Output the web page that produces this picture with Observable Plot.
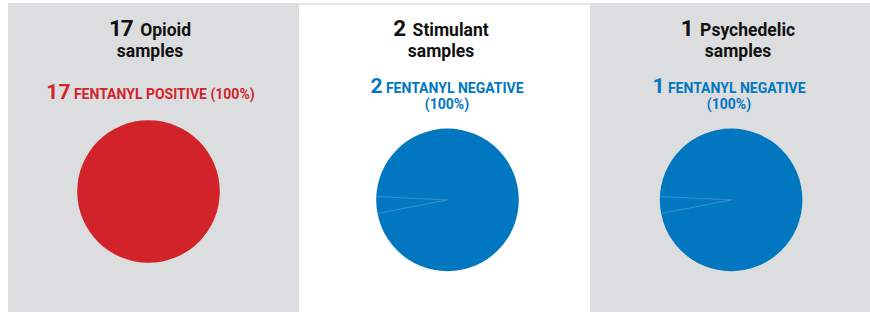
<!DOCTYPE html>
<html>
<head>
<meta charset="utf-8">
<script src="https://cdn.jsdelivr.net/npm/d3@7"></script>
<script src="https://cdn.jsdelivr.net/npm/@observablehq/plot@0.6"></script>
<style>
  html, body { margin: 0; padding: 0; background: #fff; }
  #chart { position: relative; width: 870px; height: 312px; overflow: hidden; font-family: Roboto, "Noto Sans", sans-serif; }
  .panel { position: absolute; top: 3px; height: 309px; }
  .panel svg { position: absolute; left: 0; top: 0; }
  .title { position: absolute; width: 300px; text-align: center; font-weight: 700; font-size: 17.5px; line-height: 21px; color: #111; }
  .title .num { font-size: 22.5px; line-height: 0; letter-spacing: -1px; margin-right: 3px; }
  .sub { position: absolute; width: 300px; text-align: center; font-weight: 700; font-size: 14px; line-height: 16px; }
  .sub .num { font-size: 21px; line-height: 0; }
</style>
</head>
<body>
<div id="chart"></div>
<script>
// ---- data ----
const categories = ["Opioid", "Stimulant", "Psychedelic"];
const sampleCounts = [17, 2, 1];
const fentanylPositive = [17, 0, 0];
const fentanylNegative = [0, 2, 1];
// faint seams visible between same-coloured slices in the negative pies (degrees, counter-clockwise from east)
const sliceSeamAngles = [[], [177.3, 191], [177.3, 191]];

// ---- layout / style ----
const panelLeft = [8, 299, 590];
const panelWidth = [291, 291, 280];
const panelBg = ["#dcdddf", "#ffffff", "#dcdddf"];
const pieCenter = [[140, 188], [148, 196.4], [140.6, 196.4]];
const titleCenter = [142, 142, 148];
const subCenter = [142.5, 148, 139];
const R = 71.3;
const H = 309;
const colors = { positive: "#d2232a", negative: "#0077c0" };

const chart = document.getElementById("chart");

categories.forEach((cat, i) => {
  const panel = document.createElement("div");
  panel.className = "panel";
  panel.style.left = panelLeft[i] + "px";
  panel.style.width = panelWidth[i] + "px";
  panel.style.background = panelBg[i];
  if (panelBg[i] === "#ffffff") panel.style.boxShadow = "inset 0 2px 0 #e4e5e6";
  chart.appendChild(panel);

  const slices = [
    { outcome: "positive", label: "FENTANYL POSITIVE", value: fentanylPositive[i] },
    { outcome: "negative", label: "FENTANYL NEGATIVE", value: fentanylNegative[i] }
  ].filter(d => d.value > 0);
  const total = sampleCounts[i];
  const main = slices[0];
  const color = colors[main.outcome];

  const [cx, cy] = pieCenter[i];
  const W = panelWidth[i];
  const svg = Plot.plot({
    width: W,
    height: H,
    marginLeft: cx - R,
    marginRight: W - cx - R,
    marginTop: cy - R,
    marginBottom: H - cy - R,
    x: { domain: [-1, 1], axis: null },
    y: { domain: [-1, 1], axis: null },
    style: { background: "transparent", overflow: "visible" },
    marks: [
      Plot.dot(slices, { x: () => 0, y: () => 0, r: R * Math.sqrt(main.value / total), fill: d => colors[d.outcome], stroke: null }),
      Plot.link(sliceSeamAngles[i], {
        x1: () => 0, y1: () => 0,
        x2: a => Math.cos(a * Math.PI / 180),
        y2: a => Math.sin(a * Math.PI / 180),
        stroke: "#5aa5dd", strokeWidth: 0.6, strokeOpacity: 0.9
      })
    ]
  });
  panel.appendChild(svg);

  const title = document.createElement("div");
  title.className = "title";
  title.style.left = (titleCenter[i] - 150) + "px";
  title.style.top = "17.2px";
  title.innerHTML = `<span class="num">${total}</span> ${cat}<br>samples`;
  panel.appendChild(title);

  const pct = Math.round(main.value / total * 100);
  const sub = document.createElement("div");
  sub.className = "sub";
  sub.style.color = color;
  sub.style.left = (subCenter[i] - 150) + "px";
  const wrap = main.outcome === "negative";
  sub.style.top = (wrap ? 77.2 : 83.2) + "px";
  sub.innerHTML = `<span class="num">${main.value}</span> ${main.label}${wrap ? "<br>" : " "}(${pct}%)`;
  panel.appendChild(sub);
});
</script>
</body>
</html>
